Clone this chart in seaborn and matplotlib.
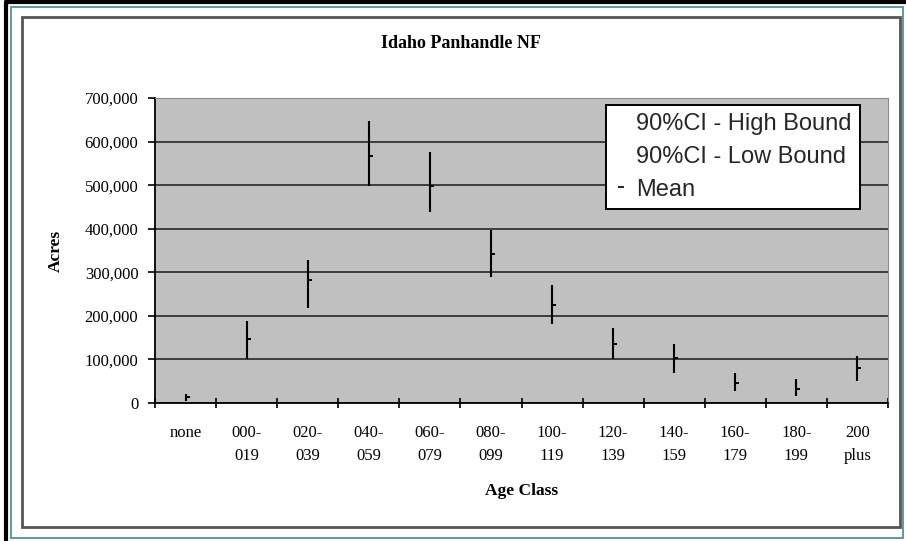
import matplotlib
matplotlib.use("Agg")
import matplotlib.pyplot as plt
import matplotlib.patches as mpatches
from matplotlib.lines import Line2D
from matplotlib.ticker import FuncFormatter, FixedLocator, MultipleLocator
import seaborn as sns
import pandas as pd
import numpy as np

# ---- data ----
categories = ["none", "000-\n019", "020-\n039", "040-\n059", "060-\n079", "080-\n099",
              "100-\n119", "120-\n139", "140-\n159", "160-\n179", "180-\n199", "200\nplus"]
high_bound = [21000, 189000, 328000, 647000, 575000, 397000, 270000, 171000, 136000, 69000, 55000, 108000]
low_bound = [5000, 101000, 219000, 499000, 439000, 289000, 182000, 102000, 69000, 28000, 16000, 51000]
mean_vals = [13000, 148000, 282000, 566000, 497000, 342000, 224000, 136000, 104000, 46000, 32000, 81000]
legend_labels = ["90%CI - High Bound", "90%CI - Low Bound", "Mean"]
title = "Idaho Panhandle NF"
x_label = "Age Class"
y_label = "Acres"

df = pd.DataFrame({"cls": categories, "high": high_bound, "low": low_bound, "mean": mean_vals})
df["pos"] = np.arange(len(df))

sns.set_theme(style="ticks")
plt.rcParams["font.family"] = ["Liberation Serif", "DejaVu Serif"]

W, H = 906, 541
fig = plt.figure(figsize=(W / 100, H / 100), dpi=100)
fig.patch.set_facecolor("white")
ax = fig.add_axes([155 / W, 1 - 403 / H, (888 - 155) / W, (403 - 98) / H])
ax.set_facecolor("#c0c0c0")

# high-low lines
ax.vlines(df["pos"], df["low"], df["high"], colors="black", linewidth=1.5, zorder=3)
# mean markers (short tick to the right)
sns.scatterplot(data=df, x="pos", y="mean", marker=1, s=8, color="black",
                linewidth=1.4, ax=ax, legend=False, zorder=4)

ax.set_xlim(-0.5, len(categories) - 0.5)
ax.set_ylim(0, 700000)
ax.yaxis.set_major_locator(MultipleLocator(100000))
ax.yaxis.set_major_formatter(FuncFormatter(lambda v, p: f"{int(v):,}"))
ax.grid(axis="y", color="#1a1a1a", linewidth=1.1)
ax.set_axisbelow(True)

# ticks at category boundaries, labels at centres
ax.xaxis.set_major_locator(FixedLocator(np.arange(-0.5, len(categories), 1.0)))
ax.xaxis.set_minor_locator(FixedLocator(df["pos"].values))
ax.set_xticklabels([])
ax.set_xticklabels(categories, minor=True, linespacing=1.65)
ax.tick_params(axis="x", which="major", direction="inout", length=7, width=1.2, color="black")
ax.tick_params(axis="x", which="minor", length=0, pad=15.5, labelsize=12, labelcolor="black")
ax.tick_params(axis="y", direction="out", length=5, width=1.2, color="black", pad=7,
               labelsize=12, labelcolor="black")

for s in ["left", "bottom"]:
    ax.spines[s].set_color("black")
    ax.spines[s].set_linewidth(1.3)
for s in ["top", "right"]:
    ax.spines[s].set_color("#8a8a8a")
    ax.spines[s].set_linewidth(0.8)

ax.set_xlabel(x_label, fontsize=12.5, fontweight="bold", color="black")
ax.set_ylabel(y_label, fontsize=12.5, fontweight="bold", color="black")
ax.xaxis.set_label_coords(0.5, (403 - 483) / (403 - 98))
ax.yaxis.set_label_coords((64 - 155) / (888 - 155), 0.5)
fig.text(461 / W, 1 - 43 / H, title, fontsize=13, fontweight="bold", color="black",
         ha="center", va="center")

# legend
handles = [Line2D([], [], linestyle="none"),
           Line2D([], [], linestyle="none"),
           Line2D([], [], linestyle="none", marker="_", markersize=5, color="black",
                  markeredgewidth=1.2)]
leg = ax.legend(handles, legend_labels, loc="upper right",
                bbox_to_anchor=(860 / W, 1 - 105 / H), bbox_transform=fig.transFigure,
                prop={"family": ["Liberation Sans", "DejaVu Sans"], "size": 17},
                frameon=True, fancybox=False, framealpha=1, edgecolor="black",
                borderpad=0.35, labelspacing=0.45, handlelength=0.6, handletextpad=0.35,
                borderaxespad=0)
leg.get_frame().set_linewidth(1.4)
leg.set_zorder(10)

# chart frames
def frect(x0, y0, x1, y1, **kw):
    r = mpatches.Rectangle((x0 / W, 1 - y1 / H), (x1 - x0) / W, (y1 - y0) / H,
                           transform=fig.transFigure, fill=False, **kw)
    fig.add_artist(r)

fig.add_artist(Line2D([6 / W, 6 / W], [0, 1 - 2 / H], transform=fig.transFigure,
                      color="black", linewidth=3))
fig.add_artist(Line2D([6 / W, 1], [1 - 2 / H, 1 - 2 / H], transform=fig.transFigure,
                      color="black", linewidth=3))
frect(11, 7, 903, 538, edgecolor="#5a9aa6", linewidth=1.4)
frect(22, 17, 900, 527, edgecolor="#555555", linewidth=2.0)

fig.savefig("out.png", dpi=100)
